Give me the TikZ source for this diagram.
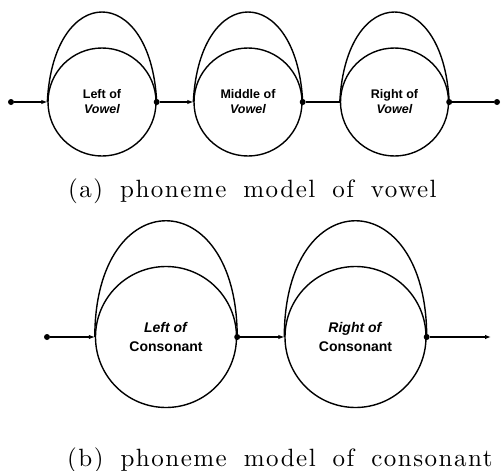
\documentclass[tikz,border=0pt]{standalone}
\usepackage{fontspec}
\newfontfamily\lblfont{Liberation Sans}
\newfontfamily\capfont{lmroman10-regular.otf}[LetterSpace=6]
\usetikzlibrary{arrows.meta}
\newcommand\capsetup{\capfont\fontsize{25}{30}\selectfont\spaceskip 17pt\relax}
\begin{document}
\begin{tikzpicture}[x=1pt,y=-1pt,
  stateA/.style={circle,draw,line width=1.4pt,inner sep=0pt,minimum size=108pt,align=center,font=\lblfont\bfseries\fontsize{12.5}{15}\selectfont},
  stateB/.style={circle,draw,line width=1.4pt,inner sep=0pt,minimum size=141pt,align=center,font=\lblfont\bfseries\fontsize{14}{18.5}\selectfont},
  jdot/.style={circle,fill,inner sep=0pt,minimum size=6pt},
  conn/.style={line width=1.1pt},
  arr/.style={conn,-{Latex[length=6pt,width=4.5pt]}},
  loopline/.style={line width=1.4pt},
  captext/.style={font=\capsetup,inner sep=0pt,anchor=base west}
]
\useasboundingbox (0,0) rectangle (501,471);
% (a) vowel
\node[stateA] (L) at (102,102) {Left of\\\textit{Vowel}};
\node[stateA] (M) at (248,102) {Middle of\\\textit{Vowel}};
\node[stateA] (R) at (394.5,102) {Right of\\\textit{Vowel}};
\draw[loopline] (L.west) .. controls +(6,-120) and +(-6,-120) .. (L.east);
\draw[loopline] (M.west) .. controls +(6,-120) and +(-6,-120) .. (M.east);
\draw[loopline] (R.west) .. controls +(6,-120) and +(-6,-120) .. (R.east);
\node[jdot] (s0) at (11,102) {};
\node[jdot] (d1) at (L.east) {};
\node[jdot] (d2) at (M.east) {};
\node[jdot] (d3) at (R.east) {};
\node[jdot] (e3) at (497,102) {};
\draw[arr] (s0) -- (L.west);
\draw[arr] (d1) -- (M.west);
\draw[conn] (d2) -- (R.west);
\draw[conn] (d3) -- (e3);
\node[captext] (capA) at (68,197.7) {(a) phoneme model of vowel};
% (b) consonant
\node[stateB] (LC) at (166,337) {\textit{Left of}\\Consonant};
\node[stateB] (RC) at (355.5,337) {\textit{Right of}\\Consonant};
\draw[loopline] (LC.west) .. controls +(0,-155) and +(0,-155) .. (LC.east);
\draw[loopline] (RC.west) .. controls +(0,-155) and +(0,-155) .. (RC.east);
\node[jdot] (s4) at (47,337) {};
\node[jdot] (d5) at (LC.east) {};
\node[jdot] (d6) at (RC.east) {};
\coordinate (e6) at (491,337);
\draw[arr] (s4) -- (LC.west);
\draw[arr] (d5) -- (RC.west);
\draw[arr] (d6) -- (e6);
\node[captext] (capB) at (67,466) {(b) phoneme model of consonant};
\end{tikzpicture}
\end{document}
